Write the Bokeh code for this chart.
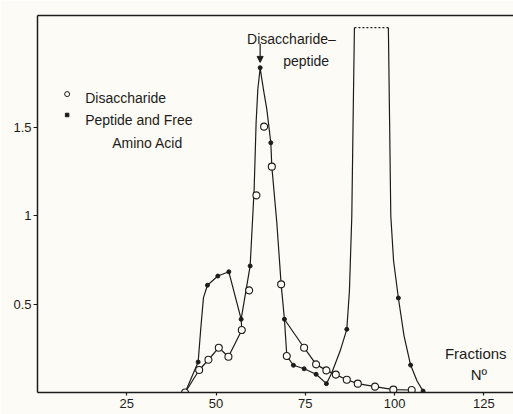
from bokeh.plotting import figure
from bokeh.models import (Range1d, FixedTicker, LinearAxis, Label, Arrow,
                          NormalHead, CustomJSTickFormatter)
from bokeh.embed import file_html
from bokeh.resources import INLINE

# ---------------- data ----------------
# Filled dots: peptide and free amino acid
pep_x = [44.99, 47.59, 50.5, 53.58, 57.03, 59.55, 62.35, 65.34, 69.15,
         71.67, 74.66, 78.02, 80.91, 86.62, 101.06, 104.48, 107.98]
pep_y = [0.172, 0.606, 0.658, 0.682, 0.414, 0.715, 1.835, 1.411, 0.414,
         0.154, 0.134, 0.103, 0.05, 0.357, 0.534, 0.155, 0.008]

# Open circles: disaccharide
dis_x = [41.35, 45.27, 47.87, 50.78, 53.47, 57.22, 59.27, 61.31, 63.47, 65.62,
         68.23, 69.82, 74.66, 78.02, 80.91, 83.54, 86.62, 89.7, 94.54, 99.66, 104.81]
dis_y = [0.0, 0.127, 0.185, 0.253, 0.202, 0.353, 0.577, 1.114, 1.502, 1.276,
         0.611, 0.206, 0.253, 0.159, 0.125, 0.101, 0.072, 0.05, 0.033, 0.016, 0.014]

# Drawn curve through the peptide values (left part up to the off-scale peak)
pep_curve_x = [41.35, 44.99, 45.74, 46.48, 47.59, 50.5, 53.58, 57.03, 59.55, 60.67,
               61.22, 61.7, 62.35, 63.27, 64.22, 65.34, 65.62, 67.02, 68.23, 69.15,
               69.82, 71.67, 74.66, 78.02, 80.91, 82.42, 84.74, 86.62, 87.35, 88.02,
               88.38, 88.75]
pep_curve_y = [0.0, 0.172, 0.366, 0.536, 0.606, 0.658, 0.682, 0.414, 0.715, 1.148,
               1.525, 1.713, 1.833, 1.713, 1.6, 1.411, 1.276, 0.959, 0.611, 0.414,
               0.206, 0.154, 0.134, 0.103, 0.05, 0.112, 0.234, 0.357, 0.573, 0.997,
               1.534, 2.061]
# Descending side of the off-scale peak
peak2_x = [98.26, 98.6, 98.94, 99.72, 101.06, 102.66, 104.48, 106.3, 107.98]
peak2_y = [2.061, 1.534, 0.997, 0.743, 0.534, 0.319, 0.155, 0.065, 0.008]
# Off-scale (truncated) top of the peak
cut_x = [88.75, 98.26]
cut_y = [2.061, 2.061]

# Disaccharide curves
dis_curve1_x = [41.35, 45.27, 47.87, 50.78, 53.47, 57.22, 57.03]
dis_curve1_y = [0.0, 0.127, 0.185, 0.253, 0.202, 0.353, 0.414]
dis_curve2_x = [69.15, 74.66, 78.02, 80.91, 83.54, 86.62, 89.7, 94.54, 99.66, 104.81]
dis_curve2_y = [0.414, 0.253, 0.159, 0.125, 0.101, 0.072, 0.05, 0.033, 0.016, 0.014]

x_ticks = [25, 50, 75, 100, 125]
y_ticks = [0.5, 1, 1.5]

# ---------------- styling ----------------
BG = "#fcfbf5"
INK = "#1c1c1c"
FONT = "Liberation Sans"

p = figure(width=513, height=414, x_range=Range1d(0, 133.3), y_range=Range1d(0, 2.13),
           output_backend="svg", toolbar_location=None,
           min_border_left=37, min_border_right=0, min_border_top=15, min_border_bottom=22,
           background_fill_color=BG, border_fill_color=BG, outline_line_color=None)
p.grid.visible = False

for ax in (p.xaxis[0], p.yaxis[0]):
    ax.axis_line_color = INK
    ax.axis_line_width = 1.5
    ax.major_tick_line_color = INK
    ax.major_tick_line_width = 1.2
    ax.major_tick_in = 0
    ax.minor_tick_line_color = None
    ax.major_label_text_font = FONT
    ax.major_label_text_font_size = "13px"
    ax.major_label_text_color = INK

p.xaxis.ticker = FixedTicker(ticks=x_ticks)
p.xaxis.major_tick_out = 3
p.xaxis.major_label_standoff = 3
p.yaxis.ticker = FixedTicker(ticks=y_ticks)
p.yaxis.major_tick_out = 4
p.yaxis.major_label_standoff = 2
p.yaxis.formatter = CustomJSTickFormatter(code="return (tick == 1) ? '1' : tick.toString();")

top = LinearAxis(ticker=FixedTicker(ticks=[]), major_tick_line_color=None,
                 minor_tick_line_color=None, major_label_text_font_size="0px",
                 axis_line_color=INK, axis_line_width=1.5, major_tick_out=0,
                 major_label_standoff=0)
p.add_layout(top, "above")

# curves
lw = 1.2
p.line(pep_curve_x, pep_curve_y, line_color=INK, line_width=lw)
p.line(peak2_x, peak2_y, line_color=INK, line_width=lw)
p.line(cut_x, cut_y, line_color=INK, line_width=1.2, line_dash="2 2")
p.line(dis_curve1_x, dis_curve1_y, line_color=INK, line_width=lw)
p.line(dis_curve2_x, dis_curve2_y, line_color=INK, line_width=lw)

# markers
p.scatter(dis_x, dis_y, marker="circle", size=7, fill_color=BG, line_color=INK, line_width=1.1)
p.scatter(pep_x, pep_y, marker="circle", size=4, fill_color=INK, line_color=INK)

# legend keys
p.scatter([8.3], [1.686], marker="circle", size=5, fill_color=BG, line_color=INK, line_width=1)
p.scatter([8.3], [1.568], marker="square", size=3.5, fill_color=INK, line_color=INK)


def lab(x, y, t, size="14px"):
    p.add_layout(Label(x=x, y=y, text=t, text_font=FONT, text_font_size=size,
                       text_color=INK, text_baseline="alphabetic", text_align="left"))


lab(13.35, 1.666, "Disaccharide")
lab(13.35, 1.540, "Peptide and Free")
lab(20.9, 1.411, "Amino  Acid")
lab(58.7, 1.997, "Disaccharide\u2013")
lab(68.8, 1.873, "peptide")
lab(114.1, 0.223, "Fractions", "15px")
lab(121.3, 0.099, "N\u00ba", "15px")

peak_x = pep_x[pep_y.index(max(pep_y))]
p.add_layout(Arrow(end=NormalHead(size=6, fill_color=INK, line_color=INK, line_width=1),
                   x_start=peak_x, y_start=1.97, x_end=peak_x, y_end=1.865,
                   line_color=INK, line_width=1.2))

open("out.html", "w").write(file_html(p, INLINE))
